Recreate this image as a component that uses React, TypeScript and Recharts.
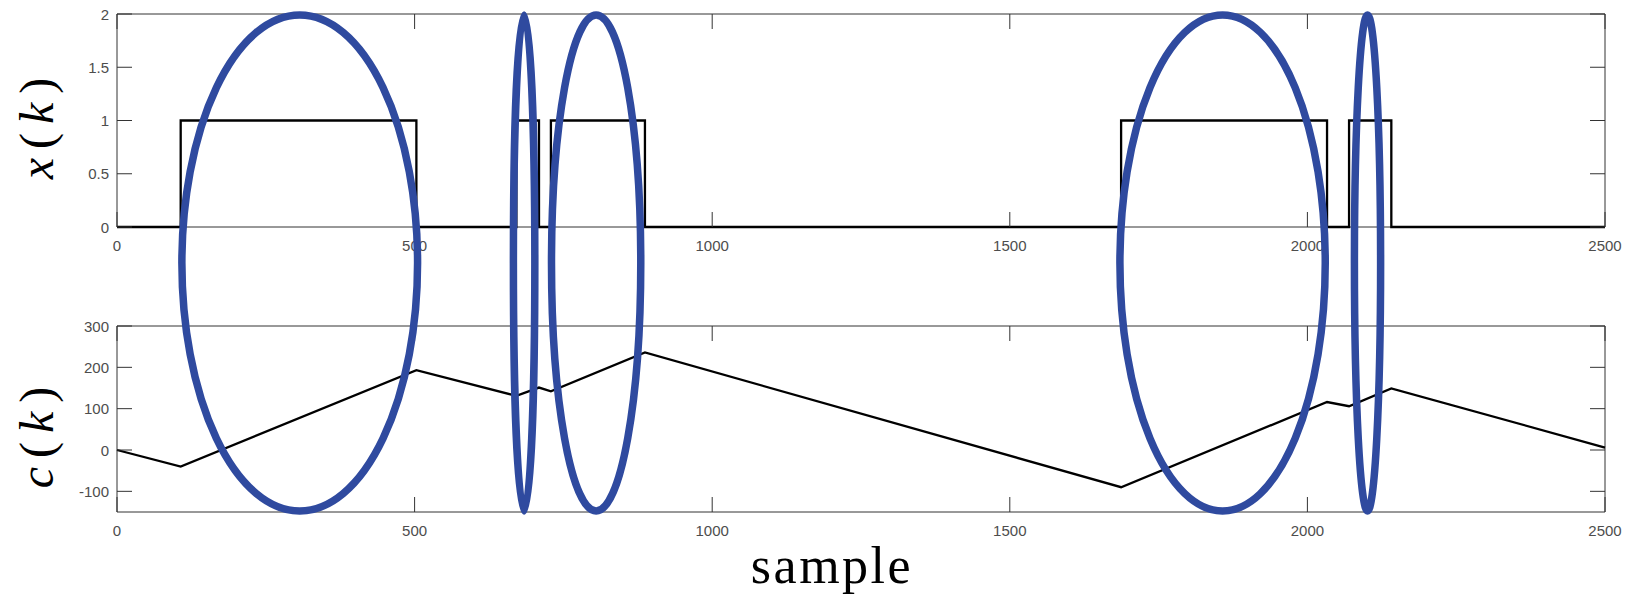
import { LineChart, Line, XAxis, YAxis, ReferenceArea } from "recharts"

const sampleTicks = [0, 500, 1000, 1500, 2000, 2500]
const xTicks = [0, 0.5, 1, 1.5, 2]
const cTicks = [-100, 0, 100, 200, 300]

// x(k): level switches at these samples and holds until the next one
const xEdges = [0, 107, 503, 671, 709, 729, 887, 1687, 2033, 2070, 2141, 2500]
const xLevels = [0, 1, 0, 1, 0, 1, 0, 1, 0, 1, 0, 0]

// c(k): corners of the piecewise-linear trace
const cSamples = [0, 107, 503, 671, 709, 729, 887, 1687, 2033, 2070, 2141, 2500]
const cValues = [0, -40, 193, 131, 151, 142, 236, -90, 116, 106, 149, 6]

// highlighted sample ranges (ellipses)
const markFrom = [109, 666, 730, 1685, 2079]
const markTo = [505, 702, 880, 2030, 2123]

const xData = xEdges.map((k, i) => ({ k, v: xLevels[i] }))
const cData = cSamples.map((k, i) => ({ k, v: cValues[i] }))
const marks = markFrom.map((from, i) => ({ from, to: markTo[i], mid: 0.5 }))

const W = 1632
const H = 594
const PLOT_L = 117
const PLOT_R = 1605
const Y_AXIS_W = 60
const TICK = 15
const AXIS_COLOR = "#333"
const LABEL_COLOR = "#4d4d4d"
const TICK_FONT = "'Liberation Sans', Arial, sans-serif"

type TickProps = { x: number; y: number; payload: { value: number } }

function YTick({ x, y, payload }: TickProps) {
  return (
    <g>
      <line x1={PLOT_L} x2={PLOT_L + TICK} y1={y} y2={y} stroke={AXIS_COLOR} />
      <line x1={PLOT_R - TICK} x2={PLOT_R} y1={y} y2={y} stroke={AXIS_COLOR} />
      <text
        x={x}
        y={y}
        textAnchor="end"
        dominantBaseline="central"
        fontFamily={TICK_FONT}
        fontSize={15}
        fill={LABEL_COLOR}
      >
        {String(payload.value)}
      </text>
    </g>
  )
}

function makeXTick(plotTop: number) {
  return function XTick({ x, y, payload }: TickProps) {
    return (
      <g>
        <line x1={x} x2={x} y1={y - TICK} y2={y} stroke={AXIS_COLOR} />
        <line x1={x} x2={x} y1={plotTop} y2={plotTop + TICK} stroke={AXIS_COLOR} />
        <text
          x={x}
          y={y + 18}
          textAnchor="middle"
          dominantBaseline="central"
          fontFamily={TICK_FONT}
          fontSize={15}
          fill={LABEL_COLOR}
        >
          {String(payload.value)}
        </text>
      </g>
    )
  }
}

function Panel({
  data,
  domain,
  ticks,
  top,
  marginTop,
  marginBottom,
  step,
}: {
  data: { k: number; v: number }[]
  domain: [number, number]
  ticks: number[]
  top: number
  marginTop: number
  marginBottom: number
  step?: boolean
}) {
  const XTick = makeXTick(marginTop)
  return (
    <div style={{ position: "absolute", left: 0, top }}>
      <LineChart
        width={W}
        height={260}
        data={data}
        margin={{ top: marginTop, right: W - PLOT_R, bottom: marginBottom, left: PLOT_L - Y_AXIS_W }}
      >
        <XAxis
          dataKey="k"
          type="number"
          domain={[0, 2500]}
          ticks={sampleTicks}
          height={30}
          axisLine={false}
          tickLine={false}
          tickSize={0}
          tickMargin={0}
          tick={(p: TickProps) => <XTick {...p} />}
        />
        <YAxis
          type="number"
          domain={domain}
          ticks={ticks}
          width={Y_AXIS_W}
          axisLine={false}
          tickLine={false}
          tickSize={0}
          tickMargin={8}
          tick={(p: TickProps) => <YTick {...p} />}
        />
        <ReferenceArea
          x1={0}
          x2={2500}
          y1={domain[0]}
          y2={domain[1]}
          fill="none"
          stroke={AXIS_COLOR}
          strokeWidth={1}
        />
        <Line
          dataKey="v"
          type={step ? "stepAfter" : "linear"}
          stroke="#000"
          strokeWidth={2.3}
          dot={false}
          isAnimationActive={false}
        />
      </LineChart>
    </div>
  )
}

const drawEllipse = (props: any) => {
  const { x, y, width, height } = props
  return (
    <ellipse
      cx={x + width / 2}
      cy={y + height / 2}
      rx={Math.abs(width) / 2}
      ry={Math.abs(height) / 2}
      fill="none"
      stroke="#2f4a9f"
      strokeWidth={7.5}
    />
  )
}

export default function App() {
  return (
    <div
      style={{
        position: "absolute",
        left: 0,
        top: 0,
        width: W,
        height: H,
        background: "#fff",
        overflow: "hidden",
      }}
    >
      <Panel data={xData} domain={[0, 2]} ticks={xTicks} top={0} marginTop={14} marginBottom={3} step />
      <Panel data={cData} domain={[-150, 300]} ticks={cTicks} top={300} marginTop={26} marginBottom={18} />

      <svg width={W} height={H} style={{ position: "absolute", left: 0, top: 0 }}>
        <text
          transform="translate(53,124) rotate(-90)"
          textAnchor="middle"
          fontFamily="'Liberation Serif', serif"
          fontSize={48}
          letterSpacing={9}
          fill="#000"
        >
          <tspan fontStyle="italic">x</tspan>
          <tspan>(</tspan>
          <tspan fontStyle="italic">k</tspan>
          <tspan>)</tspan>
        </text>
        <text
          transform="translate(53,433) rotate(-90)"
          textAnchor="middle"
          fontFamily="'Liberation Serif', serif"
          fontSize={48}
          letterSpacing={9}
          fill="#000"
        >
          <tspan fontStyle="italic">c</tspan>
          <tspan>(</tspan>
          <tspan fontStyle="italic">k</tspan>
          <tspan>)</tspan>
        </text>
        <text
          x={832}
          y={583}
          textAnchor="middle"
          fontFamily="'Liberation Serif', serif"
          fontSize={52}
          letterSpacing={2.5}
          fill="#000"
        >
          sample
        </text>
      </svg>

      <div style={{ position: "absolute", left: 0, top: 0, pointerEvents: "none" }}>
        <LineChart
          width={W}
          height={H}
          data={marks}
          margin={{ top: 15, right: W - PLOT_R, bottom: H - 511, left: PLOT_L }}
        >
          <XAxis dataKey="from" type="number" domain={[0, 2500]} hide />
          <YAxis type="number" domain={[0, 1]} allowDataOverflow hide />
          <Line dataKey="mid" stroke="none" dot={false} activeDot={false} isAnimationActive={false} />
          {marks.map((m, i) => (
            <ReferenceArea
              key={i}
              x1={m.from}
              x2={m.to}
              y1={0}
              y2={1}
              ifOverflow="visible"
              shape={drawEllipse}
            />
          ))}
        </LineChart>
      </div>
    </div>
  )
}
